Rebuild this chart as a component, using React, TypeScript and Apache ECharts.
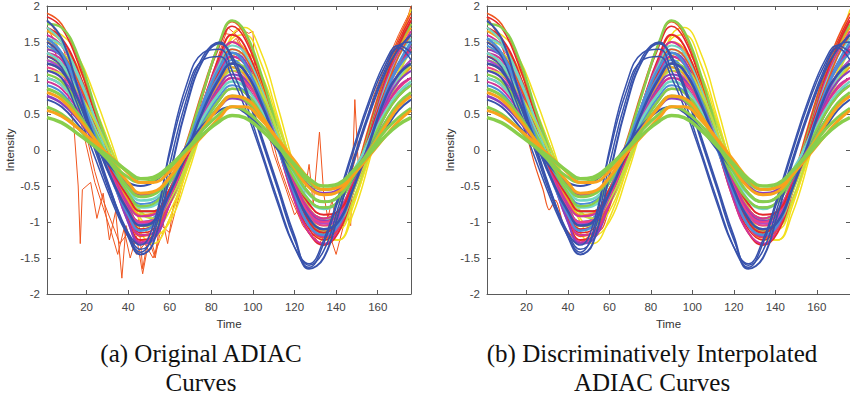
import React, { useEffect, useRef } from "react";
import * as echarts from "echarts";

// ---------- shared sampling grid (Time) ----------
const XS = [1, 8, 16, 24, 32, 40, 46, 52, 60, 68, 76, 84, 90, 96, 104, 112, 120, 127, 134, 141, 148, 156, 164, 170, 176];
const X_TICKS = [20, 40, 60, 80, 100, 120, 140, 160];
const X_MIN = 1;
const X_MAX = 176;
const Y_MIN = -2;
const Y_MAX = 2;
const Y_STEP = 0.5;

// ---------- smooth class curves (values read at XS) ----------
const red1 = [1.85, 1.7, 1.2, 0.5, -0.2, -0.85, -1.15, -1.1, -0.6, 0.05, 0.8, 1.45, 1.72, 1.55, 0.95, 0.15, -0.65, -1.1, -1.25, -1.05, -0.5, 0.3, 1.05, 1.5, 1.85];
const orangeRed1 = [1.9, 1.75, 1.25, 0.55, -0.15, -0.8, -1.1, -1.05, -0.55, 0.1, 0.85, 1.5, 1.78, 1.6, 1.0, 0.2, -0.6, -1.05, -1.2, -1.0, -0.45, 0.35, 1.1, 1.55, 1.9];
const yellow1 = [1.5, 1.45, 1.15, 0.6, 0.0, -0.7, -1.15, -1.3, -0.95, -0.3, 0.45, 1.15, 1.55, 1.6, 1.2, 0.45, -0.35, -0.95, -1.25, -1.25, -0.8, -0.05, 0.8, 1.35, 1.75];
const yellow2 = [1.3, 1.28, 1.05, 0.55, 0.0, -0.6, -0.95, -1.1, -0.85, -0.3, 0.35, 0.95, 1.3, 1.35, 1.05, 0.4, -0.3, -0.85, -1.1, -1.1, -0.75, -0.1, 0.65, 1.1, 1.45];
const greenHigh = [1.75, 1.7, 1.3, 0.6, -0.1, -0.75, -1.05, -1.05, -0.6, 0.05, 0.8, 1.5, 1.8, 1.65, 1.05, 0.25, -0.55, -1.0, -1.15, -1.0, -0.5, 0.25, 1.0, 1.45, 1.75];
const magenta1 = [1.6, 1.45, 1.0, 0.35, -0.35, -1.0, -1.28, -1.2, -0.7, -0.05, 0.65, 1.25, 1.5, 1.35, 0.8, 0.05, -0.7, -1.15, -1.3, -1.1, -0.55, 0.2, 0.95, 1.35, 1.65];
const purple1 = [1.4, 1.3, 0.9, 0.3, -0.35, -1.0, -1.3, -1.25, -0.75, -0.1, 0.55, 1.1, 1.35, 1.25, 0.75, 0.05, -0.65, -1.05, -1.2, -1.05, -0.55, 0.15, 0.85, 1.2, 1.45];
const red2 = [1.3, 1.2, 0.8, 0.25, -0.3, -0.85, -1.1, -1.05, -0.65, -0.05, 0.6, 1.1, 1.3, 1.2, 0.75, 0.1, -0.55, -1.0, -1.15, -1.0, -0.5, 0.2, 0.85, 1.2, 1.4];
const pink1 = [1.15, 1.05, 0.7, 0.2, -0.35, -0.85, -1.05, -1.0, -0.6, -0.05, 0.5, 0.95, 1.1, 1.0, 0.65, 0.1, -0.5, -0.9, -1.05, -0.95, -0.5, 0.15, 0.75, 1.05, 1.2];
const teal1 = [1.35, 1.2, 0.8, 0.3, -0.2, -0.6, -0.8, -0.78, -0.45, 0.05, 0.55, 0.95, 1.15, 1.05, 0.65, 0.15, -0.35, -0.7, -0.82, -0.72, -0.35, 0.15, 0.7, 1.0, 1.2];
const teal2 = [1.0, 0.9, 0.6, 0.2, -0.2, -0.55, -0.7, -0.68, -0.4, 0.0, 0.45, 0.8, 0.95, 0.88, 0.55, 0.1, -0.35, -0.62, -0.72, -0.65, -0.3, 0.1, 0.55, 0.8, 0.95];
const lightBlue1 = [1.45, 1.3, 0.85, 0.25, -0.3, -0.8, -1.0, -0.95, -0.55, 0.0, 0.6, 1.05, 1.25, 1.1, 0.6, 0.0, -0.55, -0.9, -1.0, -0.88, -0.45, 0.15, 0.8, 1.15, 1.35];
const green2 = [1.05, 0.95, 0.65, 0.25, -0.2, -0.6, -0.78, -0.75, -0.45, -0.05, 0.35, 0.7, 0.85, 0.8, 0.5, 0.05, -0.4, -0.7, -0.8, -0.72, -0.4, 0.05, 0.5, 0.75, 0.9];
const yellowGreen1 = [1.1, 1.05, 0.8, 0.4, -0.1, -0.6, -0.88, -0.95, -0.7, -0.2, 0.35, 0.85, 1.1, 1.1, 0.8, 0.25, -0.35, -0.8, -1.0, -0.98, -0.6, 0.0, 0.6, 0.95, 1.2];
const magenta2 = [0.95, 0.85, 0.55, 0.15, -0.3, -0.75, -0.92, -0.9, -0.55, -0.05, 0.45, 0.85, 1.0, 0.92, 0.55, 0.05, -0.45, -0.82, -0.95, -0.85, -0.45, 0.1, 0.6, 0.88, 1.0];
const red3 = [0.85, 0.75, 0.5, 0.12, -0.28, -0.65, -0.85, -0.85, -0.55, -0.1, 0.35, 0.7, 0.85, 0.8, 0.5, 0.05, -0.4, -0.75, -0.9, -0.85, -0.5, 0.0, 0.5, 0.75, 0.9];
const violet1 = [1.25, 1.12, 0.75, 0.25, -0.3, -0.8, -1.02, -1.0, -0.65, -0.1, 0.5, 1.0, 1.2, 1.1, 0.7, 0.1, -0.5, -0.88, -1.02, -0.95, -0.55, 0.05, 0.7, 1.05, 1.25];
const teal3 = [1.7, 1.5, 1.0, 0.4, -0.2, -0.7, -0.92, -0.9, -0.55, 0.0, 0.65, 1.2, 1.45, 1.35, 0.85, 0.2, -0.45, -0.85, -0.98, -0.9, -0.5, 0.15, 0.85, 1.3, 1.6];
const lightBlue2 = [1.55, 1.35, 0.85, 0.2, -0.4, -0.9, -1.12, -1.05, -0.6, 0.0, 0.65, 1.15, 1.35, 1.2, 0.7, 0.05, -0.6, -1.05, -1.18, -1.05, -0.55, 0.1, 0.8, 1.2, 1.5];
const yellow3 = [1.65, 1.6, 1.3, 0.75, 0.1, -0.6, -1.0, -1.2, -1.0, -0.4, 0.35, 1.1, 1.6, 1.7, 1.35, 0.6, -0.25, -0.9, -1.2, -1.25, -0.9, -0.15, 0.75, 1.4, 1.95];
const orangeRed2 = [1.5, 1.35, 0.95, 0.35, -0.3, -0.9, -1.2, -1.15, -0.7, -0.05, 0.6, 1.15, 1.4, 1.3, 0.8, 0.1, -0.6, -1.05, -1.22, -1.1, -0.6, 0.1, 0.85, 1.3, 1.6];
const pink2 = [1.0, 0.9, 0.6, 0.15, -0.35, -0.82, -1.0, -0.98, -0.65, -0.1, 0.45, 0.85, 1.0, 0.95, 0.6, 0.05, -0.5, -0.88, -1.0, -0.9, -0.5, 0.05, 0.6, 0.85, 1.0];
const orange1 = [1.2, 1.1, 0.75, 0.25, -0.25, -0.7, -0.9, -0.88, -0.55, -0.05, 0.5, 0.95, 1.15, 1.05, 0.65, 0.1, -0.45, -0.82, -0.95, -0.85, -0.45, 0.1, 0.65, 0.95, 1.15];
const lightBlue3 = [0.9, 0.8, 0.5, 0.12, -0.25, -0.6, -0.75, -0.72, -0.45, -0.05, 0.4, 0.75, 0.9, 0.82, 0.5, 0.05, -0.4, -0.7, -0.8, -0.72, -0.4, 0.05, 0.5, 0.78, 0.9];
const magenta3 = [1.35, 1.25, 0.85, 0.25, -0.35, -0.9, -1.18, -1.15, -0.75, -0.15, 0.5, 1.05, 1.3, 1.2, 0.75, 0.1, -0.6, -1.05, -1.2, -1.08, -0.6, 0.1, 0.8, 1.15, 1.4];
const teal4 = [1.55, 1.45, 1.05, 0.45, -0.1, -0.6, -0.85, -0.85, -0.55, 0.0, 0.6, 1.15, 1.4, 1.3, 0.85, 0.2, -0.45, -0.82, -0.95, -0.85, -0.45, 0.2, 0.9, 1.3, 1.55];
const purple2 = [1.1, 1.0, 0.65, 0.15, -0.35, -0.8, -1.0, -0.98, -0.65, -0.1, 0.45, 0.9, 1.05, 0.98, 0.6, 0.05, -0.5, -0.85, -0.98, -0.9, -0.5, 0.05, 0.65, 0.95, 1.1];
const yellowGreen2 = [1.4, 1.35, 1.05, 0.55, 0.0, -0.55, -0.85, -0.95, -0.75, -0.25, 0.3, 0.85, 1.2, 1.25, 0.95, 0.35, -0.3, -0.8, -1.05, -1.05, -0.7, -0.05, 0.6, 1.05, 1.4];
const red4 = [1.7, 1.55, 1.1, 0.4, -0.3, -0.95, -1.25, -1.2, -0.75, -0.1, 0.65, 1.3, 1.6, 1.45, 0.85, 0.05, -0.7, -1.15, -1.32, -1.15, -0.6, 0.2, 1.0, 1.45, 1.8];
const green3 = [1.25, 1.15, 0.8, 0.3, -0.2, -0.62, -0.85, -0.85, -0.55, -0.05, 0.5, 0.98, 1.2, 1.15, 0.75, 0.15, -0.45, -0.82, -0.95, -0.88, -0.5, 0.1, 0.7, 1.05, 1.25];
const orange2 = [1.65, 1.5, 1.05, 0.4, -0.25, -0.8, -1.05, -1.02, -0.65, -0.05, 0.65, 1.25, 1.5, 1.4, 0.9, 0.15, -0.55, -0.98, -1.12, -1.0, -0.5, 0.25, 0.95, 1.4, 1.7];

// thick low-amplitude curves
const greenLow1 = [0.45, 0.38, 0.22, 0.05, -0.12, -0.3, -0.4, -0.38, -0.22, 0.0, 0.22, 0.4, 0.48, 0.45, 0.28, 0.05, -0.2, -0.4, -0.5, -0.47, -0.3, -0.05, 0.2, 0.35, 0.45];
const orangeLow1 = [0.55, 0.47, 0.3, 0.1, -0.1, -0.32, -0.45, -0.45, -0.3, -0.05, 0.2, 0.45, 0.6, 0.6, 0.42, 0.15, -0.15, -0.4, -0.55, -0.52, -0.35, -0.08, 0.2, 0.4, 0.55];
const orangeMid1 = [0.8, 0.7, 0.45, 0.15, -0.15, -0.45, -0.6, -0.58, -0.38, -0.05, 0.3, 0.6, 0.75, 0.72, 0.48, 0.12, -0.25, -0.52, -0.62, -0.58, -0.35, -0.02, 0.35, 0.6, 0.75];
const greenLow2 = [0.6, 0.5, 0.3, 0.05, -0.18, -0.38, -0.45, -0.42, -0.25, 0.0, 0.28, 0.5, 0.6, 0.55, 0.35, 0.08, -0.22, -0.45, -0.55, -0.5, -0.3, -0.02, 0.28, 0.45, 0.58];
const purpleLow1 = [0.75, 0.65, 0.42, 0.12, -0.2, -0.5, -0.62, -0.6, -0.4, -0.05, 0.32, 0.6, 0.72, 0.68, 0.45, 0.1, -0.25, -0.5, -0.6, -0.55, -0.32, 0.02, 0.4, 0.62, 0.75];
const greenMid1 = [0.85, 0.75, 0.5, 0.15, -0.2, -0.52, -0.65, -0.62, -0.4, -0.05, 0.3, 0.62, 0.75, 0.7, 0.45, 0.08, -0.3, -0.6, -0.72, -0.65, -0.38, 0.0, 0.4, 0.65, 0.8];

// phase-leading large-amplitude (blue) curves
const blue1 = [1.1, 1.0, 0.5, -0.1, -0.7, -1.2, -1.42, -1.15, 0.0, 0.9, 1.35, 1.4, 1.1, 0.7, 0.0, -0.7, -1.35, -1.63, -1.3, -0.7, -0.05, 0.65, 1.2, 1.42, 1.25];
const blue2 = [1.5, 1.3, 0.7, 0.05, -0.6, -1.15, -1.38, -1.2, -0.2, 0.7, 1.3, 1.5, 1.25, 0.85, 0.15, -0.55, -1.25, -1.6, -1.4, -0.8, -0.15, 0.55, 1.15, 1.45, 1.5];
const blue3 = [1.3, 1.15, 0.6, 0.0, -0.65, -1.15, -1.32, -1.05, -0.05, 0.8, 1.25, 1.3, 1.0, 0.6, -0.05, -0.75, -1.35, -1.58, -1.25, -0.65, 0.0, 0.7, 1.25, 1.45, 1.35];
const blue4 = [1.8, 1.55, 0.85, 0.1, -0.6, -1.2, -1.45, -1.3, -0.35, 0.6, 1.25, 1.48, 1.3, 0.9, 0.2, -0.5, -1.2, -1.65, -1.5, -0.9, -0.2, 0.5, 1.1, 1.4, 1.6];
const blue5 = [1.2, 1.1, 0.7, 0.15, -0.4, -0.85, -1.05, -1.0, -0.6, -0.05, 0.55, 1.0, 1.2, 1.1, 0.65, 0.05, -0.55, -0.95, -1.1, -1.0, -0.55, 0.1, 0.75, 1.05, 1.2];
const blue6 = [0.7, 0.6, 0.35, 0.05, -0.25, -0.45, -0.5, -0.45, -0.25, 0.05, 0.35, 0.55, 0.6, 0.52, 0.3, 0.0, -0.3, -0.6, -0.72, -0.65, -0.4, -0.05, 0.3, 0.55, 0.7];

// ---------- noisy original curves (panel a) ----------
const noisy1X = [1, 5, 10, 14, 16, 17, 18, 22, 25, 28, 31, 34, 37, 39, 42, 45, 47, 50, 53, 56, 59, 62, 66, 70, 76, 82, 86, 90, 94, 98, 100, 101, 104, 108, 112, 118, 124, 128, 132, 136, 140, 146, 152, 158, 164, 170, 176];
const noisy1Y = [1.55, 1.35, 0.95, 0.3, -0.5, -1.3, -0.55, -0.45, -0.95, -0.6, -1.25, -0.85, -1.78, -1.05, -1.35, -0.95, -1.65, -1.15, -1.45, -0.9, -1.3, -0.75, -0.45, 0.1, 0.75, 1.35, 1.62, 1.6, 1.68, 1.62, 1.65, 1.0, 0.75, 0.3, -0.15, -0.65, -1.05, -1.2, -1.15, -1.25, -0.95, -0.45, 0.15, 0.75, 1.2, 1.6, 1.95];
const noisy2X = [1, 6, 12, 18, 24, 28, 32, 35, 38, 41, 44, 47, 50, 53, 56, 60, 64, 70, 78, 86, 92, 98, 104, 110, 116, 120, 124, 127, 129, 132, 134, 136, 138, 141, 144, 147, 149, 151, 156, 162, 168, 172, 176];
const noisy2Y = [1.7, 1.45, 0.95, 0.3, -0.45, -0.8, -1.15, -1.45, -1.1, -1.5, -1.2, -1.72, -1.25, -1.5, -1.05, -1.15, -0.7, -0.05, 0.8, 1.4, 1.55, 1.2, 0.6, -0.05, -0.55, -0.9, -0.75, -0.2, -0.75, 0.25, -0.6, -0.95, -0.7, -1.1, -0.8, -1.05, 0.7, -0.4, -0.1, 0.6, 1.2, 1.55, 1.8];
const noisy3X = [1, 4, 8, 12, 16, 20, 24, 28, 32, 36, 40, 44, 48, 52, 56, 60, 65, 70, 75, 80, 85, 88, 92, 96, 100, 104, 108, 112, 116, 120, 124, 128, 132, 136, 140, 144, 148, 152, 156, 160, 164, 168, 172, 176];
const noisy3Y = [1.8, 1.7, 1.5, 1.1, 0.7, 0.2, -0.3, -0.7, -1.0, -1.3, -1.15, -1.45, -1.3, -1.5, -1.2, -0.95, -0.55, -0.05, 0.5, 1.0, 1.45, 1.7, 1.6, 1.35, 1.1, 0.9, 0.55, 0.2, -0.1, -0.5, -0.85, -1.15, -1.3, -1.1, -1.45, -1.0, -0.6, -0.2, 0.2, 0.55, 1.0, 1.35, 1.6, 2.0];

// ---------- interpolated rough curve (panel b) ----------
const interpX = [1, 6, 12, 18, 24, 28, 31, 34, 38, 42, 46, 50, 54, 57, 60, 65, 70, 78, 86, 90, 96, 104, 112, 120, 126, 130, 134, 138, 142, 146, 150, 156, 162, 168, 172, 176];
const interpY = [1.85, 1.6, 1.1, 0.45, -0.2, -0.55, -0.83, -0.7, -1.05, -1.2, -1.3, -1.2, -1.15, -1.07, -0.8, -0.4, 0.05, 0.75, 1.45, 1.6, 1.45, 0.85, 0.15, -0.55, -1.0, -1.1, -1.22, -1.15, -0.95, -0.7, -0.45, 0.1, 0.75, 1.3, 1.6, 1.8];

// ---------- captions ----------
const CAPTION_A = ["(a) Original ADIAC", "Curves"];
const CAPTION_B = ["(b) Discriminatively Interpolated", "ADIAC Curves"];

// ---------- styling ----------
const C = {
  blue: "#3852AC",
  red: "#E5262B",
  orangeRed: "#F0561F",
  orange: "#F8A21C",
  yellow: "#F3E01E",
  yellowGreen: "#C4DD3C",
  green: "#88CE4C",
  teal: "#72D6C2",
  lightBlue: "#4D8ED8",
  purple: "#8C3FBE",
  magenta: "#D13398",
  pink: "#EE3F86",
  violet: "#B547C9",
};

type Curve = { d: number[]; c: string; w: number };

const THIN: Curve[] = [
  { d: yellow3, c: C.yellow, w: 1.5 },
  { d: yellow1, c: C.yellow, w: 1.5 },
  { d: yellow2, c: C.yellow, w: 1.5 },
  { d: yellowGreen2, c: C.yellowGreen, w: 2 },
  { d: orangeRed1, c: C.orangeRed, w: 1.5 },
  { d: red1, c: C.red, w: 1.5 },
  { d: orange2, c: C.orange, w: 2 },
  { d: greenHigh, c: C.green, w: 2.5 },
  { d: red4, c: C.red, w: 2 },
  { d: magenta1, c: C.magenta, w: 2 },
  { d: purple1, c: C.purple, w: 2 },
  { d: teal3, c: C.teal, w: 2 },
  { d: teal4, c: C.teal, w: 2 },
  { d: red2, c: C.red, w: 2 },
  { d: orangeRed2, c: C.orangeRed, w: 1.5 },
  { d: magenta3, c: C.magenta, w: 2 },
  { d: pink1, c: C.pink, w: 2 },
  { d: lightBlue1, c: C.lightBlue, w: 2 },
  { d: green3, c: C.green, w: 2 },
  { d: teal1, c: C.teal, w: 2.5 },
  { d: orange1, c: C.orange, w: 2 },
  { d: yellowGreen1, c: C.yellowGreen, w: 2 },
  { d: violet1, c: C.violet, w: 2 },
  { d: purple2, c: C.purple, w: 2 },
  { d: pink2, c: C.pink, w: 2 },
  { d: magenta2, c: C.magenta, w: 2 },
  { d: red3, c: C.red, w: 2 },
  { d: lightBlue3, c: C.lightBlue, w: 2 },
  { d: teal2, c: C.teal, w: 2.5 },
  { d: green2, c: C.green, w: 2.5 },
  { d: lightBlue2, c: C.lightBlue, w: 2.5 },
];

const BLUE: Curve[] = [
  { d: blue1, c: C.blue, w: 1.5 },
  { d: blue2, c: C.blue, w: 1.5 },
  { d: blue3, c: C.blue, w: 1.5 },
  { d: blue4, c: C.blue, w: 2 },
  { d: blue5, c: C.blue, w: 2.5 },
  { d: blue6, c: C.blue, w: 2 },
];

const THICK: Curve[] = [
  { d: purpleLow1, c: C.purple, w: 2.5 },
  { d: greenMid1, c: C.green, w: 3 },
  { d: orangeMid1, c: C.orange, w: 3 },
  { d: greenLow2, c: C.green, w: 3 },
  { d: orangeLow1, c: C.orange, w: 3 },
  { d: greenLow1, c: C.green, w: 3.5 },
];

const FONT = "Liberation Sans, Arial, sans-serif";
const AXIS_COLOR = "#5a5a5a";
const LABEL_COLOR = "#444";

function buildAxes(gi: number) {
  const tickStyle = { show: true, inside: true, length: 4, lineStyle: { color: AXIS_COLOR } };
  const lineStyle = { show: true, onZero: false, lineStyle: { color: AXIS_COLOR, width: 1 } };
  const xAxes = [
    {
      type: "value", gridIndex: gi, min: X_MIN, max: X_MAX, position: "bottom",
      axisLine: lineStyle,
      axisTick: { ...tickStyle, customValues: X_TICKS },
      axisLabel: { customValues: X_TICKS, color: LABEL_COLOR, fontSize: 11.5, fontFamily: FONT, margin: 7 },
      splitLine: { show: false },
      name: "Time", nameLocation: "middle", nameGap: 21,
      nameTextStyle: { color: "#333", fontSize: 11.5, fontFamily: FONT },
    },
    {
      type: "value", gridIndex: gi, min: X_MIN, max: X_MAX, position: "top",
      axisLine: lineStyle,
      axisTick: { ...tickStyle, customValues: X_TICKS },
      axisLabel: { show: false },
      splitLine: { show: false },
    },
  ];
  const yAxes = [
    {
      type: "value", gridIndex: gi, min: Y_MIN, max: Y_MAX, interval: Y_STEP, position: "left",
      axisLine: lineStyle,
      axisTick: tickStyle,
      axisLabel: { color: LABEL_COLOR, fontSize: 11.5, fontFamily: FONT, margin: 7 },
      splitLine: { show: false },
      name: "Intensity", nameLocation: "middle", nameGap: 29,
      nameTextStyle: { color: "#333", fontSize: 11.5, fontFamily: FONT },
    },
    {
      type: "value", gridIndex: gi, min: Y_MIN, max: Y_MAX, interval: Y_STEP, position: "right",
      axisLine: lineStyle,
      axisTick: tickStyle,
      axisLabel: { show: false },
      splitLine: { show: false },
    },
  ];
  return { xAxes, yAxes };
}

function curveSeries(curve: Curve, gi: number, z: number) {
  const n = Math.min(XS.length, curve.d.length);
  const data: number[][] = [];
  for (let i = 0; i < n; i++) data.push([XS[i], curve.d[i]]);
  return {
    type: "line", xAxisIndex: gi * 2, yAxisIndex: gi * 2, data,
    smooth: 0.45, showSymbol: false, symbol: "none", silent: true, z,
    lineStyle: { color: curve.c, width: curve.w },
  };
}

function pairSeries(xs: number[], ys: number[], color: string, width: number, gi: number, smooth: number | boolean, z: number) {
  const n = Math.min(xs.length, ys.length);
  const data: number[][] = [];
  for (let i = 0; i < n; i++) data.push([xs[i], ys[i]]);
  return {
    type: "line", xAxisIndex: gi * 2, yAxisIndex: gi * 2, data,
    smooth, showSymbol: false, symbol: "none", silent: true, z,
    lineStyle: { color, width },
  };
}

function panelSeries(gi: number) {
  const s: any[] = [];
  if (gi === 0) {
    s.push(pairSeries(noisy1X, noisy1Y, C.orangeRed, 1, gi, false, 2));
    s.push(pairSeries(noisy2X, noisy2Y, C.orangeRed, 1, gi, false, 2));
    s.push(pairSeries(noisy3X, noisy3Y, C.orangeRed, 1, gi, false, 2));
  } else {
    s.push(pairSeries(interpX, interpY, C.orangeRed, 1.2, gi, 0.3, 2));
  }
  THIN.forEach((c) => s.push(curveSeries(c, gi, 3)));
  BLUE.forEach((c) => s.push(curveSeries(c, gi, 4)));
  THICK.forEach((c) => s.push(curveSeries(c, gi, 5)));
  return s;
}

function captionTexts(lines: string[], cx: number) {
  return lines.map((t, i) => ({
    type: "text",
    x: cx,
    y: 353 + i * 29,
    style: {
      text: t,
      fill: "#111",
      font: "25px 'Liberation Serif', 'Times New Roman', serif",
      textAlign: "center",
      textVerticalAlign: "middle",
    },
  }));
}

export default function App() {
  const ref = useRef<HTMLDivElement>(null);
  useEffect(() => {
    if (!ref.current) return;
    const chart = echarts.init(ref.current, undefined, { renderer: "svg" });
    const a = buildAxes(0);
    const b = buildAxes(1);
    chart.setOption({
      animation: false,
      backgroundColor: "#ffffff",
      grid: [
        { left: 47, top: 6, width: 364, height: 288 },
        { left: 487, top: 6, width: 364, height: 288 },
      ],
      xAxis: [...a.xAxes, ...b.xAxes],
      yAxis: [...a.yAxes, ...b.yAxes],
      series: [...panelSeries(0), ...panelSeries(1)],
      graphic: [...captionTexts(CAPTION_A, 201), ...captionTexts(CAPTION_B, 652)],
    });
    return () => chart.dispose();
  }, []);
  return (
    <div
      ref={ref}
      style={{ position: "absolute", left: 0, top: 0, width: 850, height: 397 }}
    />
  );
}
